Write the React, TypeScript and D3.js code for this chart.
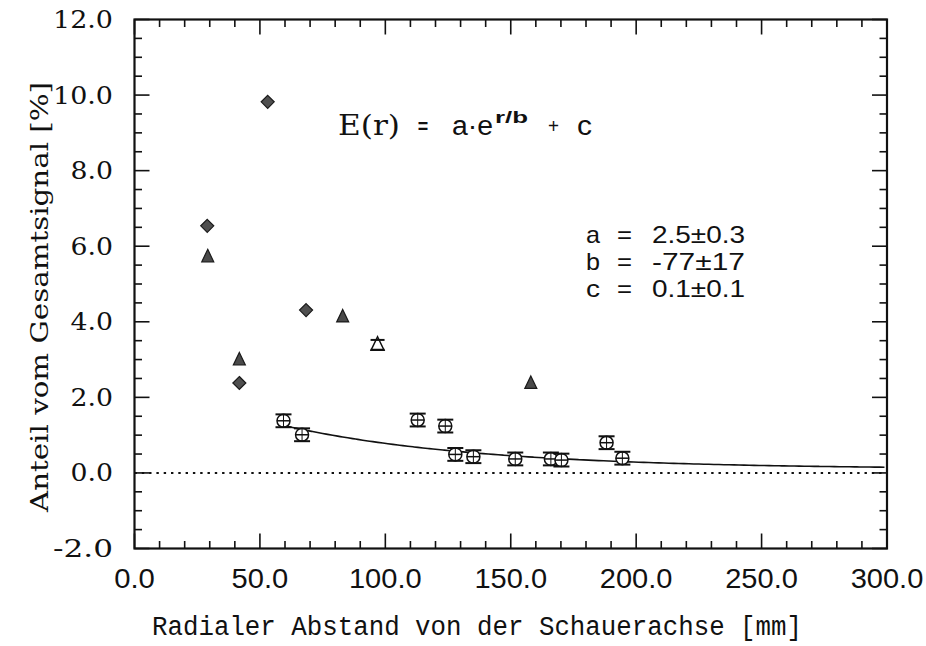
import React from 'react';
import * as d3 from 'd3';

const xTicks = [0, 50, 100, 150, 200, 250, 300];
const yTicks = [-2, 0, 2, 4, 6, 8, 10, 12];
const xTickLabels = ['0.0', '50.0', '100.0', '150.0', '200.0', '250.0', '300.0'];
const yTickLabels = ['-2.0', '0.0', '2.0', '4.0', '6.0', '8.0', '10.0', '12.0'];

const diamondX = [29.0, 41.8, 53.1, 68.4];
const diamondY = [6.54, 2.38, 9.82, 4.31];

const triangleX = [29.2, 41.8, 83.0, 158.0];
const triangleY = [5.72, 2.99, 4.13, 2.37];

const openTriX = [96.9];
const openTriY = [3.39];
const openTriErr = [0.13];

const circleX = [59.4, 66.8, 112.9, 123.9, 127.9, 135.1, 151.8, 166.0, 170.2, 188.2, 194.5];
const circleY = [1.38, 1.01, 1.40, 1.24, 0.49, 0.43, 0.37, 0.37, 0.34, 0.8, 0.39];
const circleErr = [0.17, 0.17, 0.17, 0.17, 0.17, 0.17, 0.17, 0.17, 0.17, 0.17, 0.17];

const fitA = 2.5;
const fitB = -77;
const fitC = 0.1;
const fitStart = 59;
const fitEnd = 300;

const paramNames = ['a', 'b', 'c'];
const paramValues = ['2.5\u00B10.3', '-77\u00B117', '0.1\u00B10.1'];

const W = 926;
const H = 646;

// width helpers for label text (forces glyph widths like the reference)
const widthOf = (s: string, digit: number, dot: number) =>
  s.split('').reduce((acc, ch) => acc + (ch === '.' ? dot : digit), 0);

export default function App() {
  const x = d3.scaleLinear().domain([0, 300]).range([134.5, 887]);
  const y = d3.scaleLinear().domain([-2, 12]).range([548.5, 19.5]);

  const xMinor = d3.range(0, 301, 10);
  const yMinor = d3.range(-2, 12.01, 0.5);

  const fitPts: [number, number][] = d3
    .range(fitStart, fitEnd + 0.001, 2)
    .map((r) => [r, fitA * Math.exp(r / fitB) + fitC]);
  const line = d3
    .line<[number, number]>()
    .x((d) => x(d[0]))
    .y((d) => y(d[1]))
    .curve(d3.curveMonotoneX);

  const serif = 'DejaVu Serif';
  const sans = 'Liberation Sans';
  const x0 = x(0), x1 = x(300), yT = y(12), yB = y(-2);

  const diamond = (cx: number, cy: number, r: number) =>
    `M${cx},${cy - r}L${cx + r},${cy}L${cx},${cy + r}L${cx - r},${cy}Z`;
  const tri = (cx: number, cy: number, s: number) =>
    `M${cx},${cy - s * 0.62}L${cx + s / 2},${cy + s * 0.42}L${cx - s / 2},${cy + s * 0.42}Z`;

  return (
    <svg width={W} height={H} style={{ position: 'absolute', left: 0, top: 0, background: '#fff' }}>
      <rect x={0} y={0} width={W} height={H} fill="#fff" />
      {/* zero dotted line */}
      <line x1={x0} x2={x1} y1={y(0)} y2={y(0)} stroke="#111" strokeWidth={2} strokeDasharray="2.4 4.9" />
      {/* fit curve */}
      <path d={line(fitPts) || ''} fill="none" stroke="#111" strokeWidth={1.6} />

      {/* ticks */}
      {xMinor.map((v) => {
        const major = v % 50 === 0;
        const L = major ? 15 : 7.5;
        return (
          <g key={'xt' + v} stroke="#111" strokeWidth={1.6}>
            <line x1={x(v)} x2={x(v)} y1={yB} y2={yB - L} />
            <line x1={x(v)} x2={x(v)} y1={yT} y2={yT + L} />
          </g>
        );
      })}
      {yMinor.map((v) => {
        const major = Math.abs(v / 2 - Math.round(v / 2)) < 1e-6;
        const L = major ? 15 : 7.5;
        return (
          <g key={'yt' + v} stroke="#111" strokeWidth={1.6}>
            <line x1={x0} x2={x0 + L} y1={y(v)} y2={y(v)} />
            <line x1={x1} x2={x1 - L} y1={y(v)} y2={y(v)} />
          </g>
        );
      })}
      {/* frame */}
      <rect x={x0} y={yT} width={x1 - x0} height={yB - yT} fill="none" stroke="#111" strokeWidth={2.2} />

      {/* x tick labels */}
      {xTicks.map((v, i) => (
        <text
          key={'xl' + v}
          x={x(v) - widthOf(xTickLabels[i], 16, 8.7) / 2}
          y={588}
          fontFamily={sans}
          fontSize={28}
          textLength={widthOf(xTickLabels[i], 16, 8.7)}
          lengthAdjust="spacingAndGlyphs"
          fill="#111"
        >
          {xTickLabels[i]}
        </text>
      ))}
      {/* y tick labels */}
      {yTicks.map((v, i) => (
        <text
          key={'yl' + v}
          x={113 - widthOf(yTickLabels[i], 17.5, 7.5)}
          y={y(v) + 8.5}
          fontFamily={serif}
          fontSize={23.5}
          textLength={widthOf(yTickLabels[i], 17.5, 7.5)}
          lengthAdjust="spacingAndGlyphs"
          fill="#111"
        >
          {yTickLabels[i]}
        </text>
      ))}

      {/* axis titles */}
      <text x={152} y={635} fontFamily="Liberation Mono" fontSize={27} textLength={650} lengthAdjust="spacingAndGlyphs" fill="#111">
        Radialer Abstand von der Schauerachse [mm]
      </text>
      <text
        transform={`translate(48,${297}) rotate(-90)`}
        x={-215}
        fontFamily={serif}
        fontSize={24.5}
        textLength={430}
        lengthAdjust="spacingAndGlyphs"
        fill="#111"
      >
        Anteil vom Gesamtsignal [%]
      </text>

      {/* formula */}
      <g fill="#111">
        <text x={338} y={135} fontFamily={serif} fontSize={27} textLength={62} lengthAdjust="spacingAndGlyphs">E(r)</text>
        <text x={417} y={135} fontFamily={serif} fontSize={27} textLength={12} lengthAdjust="spacingAndGlyphs">=</text>
        <text x={452} y={135} fontFamily={sans} fontSize={27} textLength={41} lengthAdjust="spacingAndGlyphs">a·e</text>
        <text x={495} y={122.5} fontFamily={sans} fontWeight="bold" fontSize={16} textLength={33} lengthAdjust="spacingAndGlyphs">r/b</text>
        <text x={548} y={133} fontFamily={sans} fontSize={20} textLength={11} lengthAdjust="spacingAndGlyphs">+</text>
        <text x={577} y={135} fontFamily={sans} fontSize={28} textLength={15} lengthAdjust="spacingAndGlyphs">c</text>
      </g>

      {/* parameters */}
      {paramNames.map((p, i) => (
        <g key={'p' + p} fill="#111" fontFamily={sans} fontSize={24}>
          <text x={586} y={243 + i * 27} textLength={14} lengthAdjust="spacingAndGlyphs">{p}</text>
          <text x={617} y={243 + i * 27} textLength={15} lengthAdjust="spacingAndGlyphs">=</text>
          <text x={652} y={243 + i * 27} textLength={93} lengthAdjust="spacingAndGlyphs">{paramValues[i]}</text>
        </g>
      ))}

      {/* circles with error bars */}
      {circleX.map((cx, i) => {
        const px = x(cx), py = y(circleY[i]);
        const top = y(circleY[i] + circleErr[i]);
        const bot = y(circleY[i] - circleErr[i]);
        return (
          <g key={'c' + i} stroke="#111" strokeWidth={1.5}>
            <line x1={px} x2={px} y1={top} y2={bot} />
            <circle cx={px} cy={py} r={6.5} fill="#fff" />
            <line x1={px - 6.5} x2={px + 6.5} y1={py} y2={py} />
            <line x1={px} x2={px} y1={py - 6.5} y2={py + 6.5} strokeWidth={1} />
            <line x1={px - 8} x2={px + 8} y1={top} y2={top} strokeWidth={2} />
            <line x1={px - 8} x2={px + 8} y1={bot} y2={bot} strokeWidth={2} />
          </g>
        );
      })}

      {/* open triangle with error bars */}
      {openTriX.map((tx, i) => {
        const px = x(tx), py = y(openTriY[i]);
        const top = y(openTriY[i] + openTriErr[i]);
        const bot = y(openTriY[i] - openTriErr[i]);
        return (
          <g key={'ot' + i} stroke="#111" strokeWidth={1.5}>
            <line x1={px} x2={px} y1={top} y2={bot} />
            <path d={tri(px, py, 13)} fill="#fff" />
            <line x1={px - 7} x2={px + 7} y1={top} y2={top} strokeWidth={2} />
            <line x1={px - 7} x2={px + 7} y1={bot} y2={bot} strokeWidth={2} />
          </g>
        );
      })}

      {/* filled triangles */}
      {triangleX.map((tx, i) => (
        <path key={'t' + i} d={tri(x(tx), y(triangleY[i]), 12)} fill="#4a4a4a" stroke="#1a1a1a" strokeWidth={1.2} />
      ))}

      {/* diamonds */}
      {diamondX.map((dx, i) => (
        <path key={'d' + i} d={diamond(x(dx), y(diamondY[i]), 6.5)} fill="#4f4f4f" stroke="#1a1a1a" strokeWidth={1.2} />
      ))}
    </svg>
  );
}
